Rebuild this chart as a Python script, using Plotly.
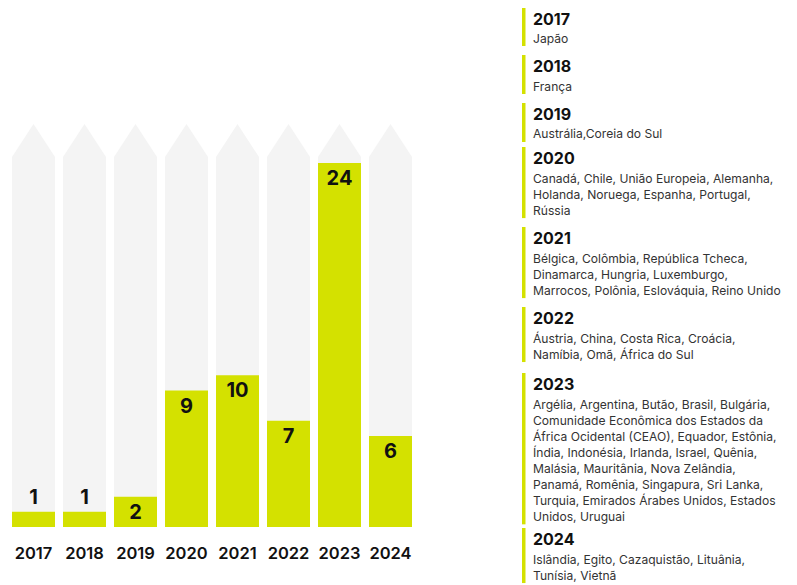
import plotly.graph_objects as go

# ---------------- data ----------------
years = [2017, 2018, 2019, 2020, 2021, 2022, 2023, 2024]
values = [1, 1, 2, 9, 10, 7, 24, 6]
year_labels = [str(y) for y in years]

countries_2017 = ["Japão"]
countries_2018 = ["França"]
countries_2019 = ["Austrália,Coreia do Sul"]
countries_2020 = ["Canadá, Chile, União Europeia, Alemanha,",
                  "Holanda, Noruega, Espanha, Portugal,",
                  "Rússia"]
countries_2021 = ["Bélgica, Colômbia, República Tcheca,",
                  "Dinamarca, Hungria, Luxemburgo,",
                  "Marrocos, Polônia, Eslováquia, Reino Unido"]
countries_2022 = ["Áustria, China, Costa Rica, Croácia,",
                  "Namíbia, Omã, África do Sul"]
countries_2023 = ["Argélia, Argentina, Butão, Brasil, Bulgária,",
                  "Comunidade Econômica dos Estados da",
                  "África Ocidental (CEAO), Equador, Estônia,",
                  "Índia, Indonésia, Irlanda, Israel, Quênia,",
                  "Malásia, Mauritânia, Nova Zelândia,",
                  "Panamá, Romênia, Singapura, Sri Lanka,",
                  "Turquia, Emirados Árabes Unidos, Estados",
                  "Unidos, Uruguai"]
countries_2024 = ["Islândia, Egito, Cazaquistão, Lituânia,",
                  "Tunísia, Vietnã"]
country_lines = [countries_2017, countries_2018, countries_2019, countries_2020,
                 countries_2021, countries_2022, countries_2023, countries_2024]

# ---------------- layout / style ----------------
OFF = 8                      # page (body) margin of the html page
W, H = 797 - OFF, 585 - OFF  # figure size so that it fits the window


def fy(py):                  # screen row -> figure row
    return py - OFF


def fx(px):                  # screen column -> figure column
    return px - OFF


ML, MT = fx(8), fy(120)
PW = 8 * 51                  # 51 px per year slot
MR = W - ML - PW
MB = H - fy(527)
PH = H - MT - MB

BASE_PX = fy(527)            # figure row of the bar baseline
TOP_VAL_PX = fy(163)         # figure row reached by the largest bar
px_per_unit = (BASE_PX - TOP_VAL_PX) / max(values)
y_max = PH / px_per_unit

LIME = "#d4e100"
GREY = "#f4f4f4"
FONT = "Inter"
BAR_W = 0.843


def yv(py):
    return (BASE_PX - fy(py)) / px_per_unit


def xp(px):
    return (fx(px) - ML) / PW


def yp_fig(frow):
    return (H - MB - frow) / PH


def yp(py):
    return yp_fig(fy(py))


fig = go.Figure()

text_pos = ["inside" if v * px_per_unit > 26 else "outside" for v in values]
fig.add_trace(go.Bar(
    x=years, y=values, width=BAR_W,
    marker=dict(color=LIME, line=dict(width=0)),
    text=values, textposition=text_pos, textangle=0,
    insidetextanchor="end", constraintext="none",
    textfont=dict(family=FONT, size=20, color="#111111", weight=700),
    cliponaxis=False, hoverinfo="skip",
))

shapes = []
shoulder = yv(157)
tip = yv(124)
for x in years:
    x0, x1 = x - BAR_W / 2, x + BAR_W / 2
    shapes.append(dict(
        type="path", xref="x", yref="y", layer="below",
        path=f"M {x0},0 L {x0},{shoulder} L {x},{tip} L {x1},{shoulder} L {x1},0 Z",
        fillcolor=GREY, line=dict(width=0),
    ))

annotations = []
block_tops = [7, 55, 103, 147, 227, 307, 373, 528]
LINE_H = 16.05
HEAD_SIZE = 16
for i, (yr, lines) in enumerate(zip(year_labels, country_lines)):
    T = block_tops[i]
    head_top = max(0.0, fy(T + 10) - HEAD_SIZE * 0.65)
    annotations.append(dict(
        xref="paper", yref="paper", x=xp(532), y=yp_fig(head_top),
        xanchor="left", yanchor="top", showarrow=False, text=yr, borderpad=0,
        font=dict(family=FONT, size=HEAD_SIZE, color="#111111", weight=700),
    ))
    for j, line in enumerate(lines):
        annotations.append(dict(
            xref="paper", yref="paper", x=xp(531), y=yp(T + 31 + LINE_H * j),
            xanchor="left", yanchor="middle", showarrow=False, text=line,
            font=dict(family=FONT, size=12.1, color="#333333"),
        ))
    bottom = min(585, T + 31 + LINE_H * (len(lines) - 1) + 8)
    shapes.append(dict(
        type="rect", xref="paper", yref="paper",
        x0=xp(522), x1=xp(525.5), y0=yp(T), y1=yp(bottom),
        fillcolor=LIME, line=dict(width=0), layer="above",
    ))

fig.update_layout(
    width=W, height=H,
    margin=dict(l=ML, r=MR, t=MT, b=MB, pad=0, autoexpand=False),
    paper_bgcolor="white", plot_bgcolor="white",
    showlegend=False,
    shapes=shapes, annotations=annotations,
    xaxis=dict(range=[2016.5, 2024.5],
               tickvals=years, ticktext=year_labels,
               showgrid=False, zeroline=False, showline=False, ticks="",
               ticklabelstandoff=14, automargin=False,
               tickfont=dict(family=FONT, size=16.5, color="#111111", weight=600),
               fixedrange=True),
    yaxis=dict(range=[0, y_max], visible=False, fixedrange=True, automargin=False),
)

fig.write_html("out.html")
